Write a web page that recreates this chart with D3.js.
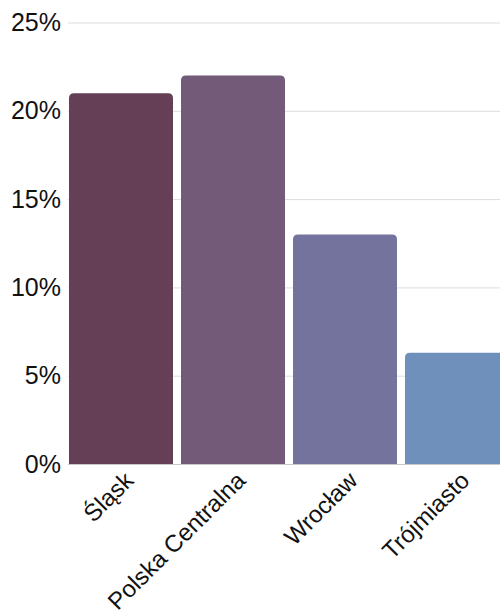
<!DOCTYPE html>
<meta charset="utf-8">
<style>
  body { margin: 0; overflow: hidden; background: #fff; }
  svg { display: block; }
  text { font-family: "Liberation Sans", Arial, sans-serif; fill: #111; }
</style>
<body>
<script src="https://cdn.jsdelivr.net/npm/d3@7"></script>
<script>
// data
var regions = ["Śląsk", "Polska Centralna", "Wrocław", "Trójmiasto"];
var shares  = [21.0, 22.0, 13.0, 6.3];
var colors  = ["#643f56", "#735a78", "#74739d", "#6e90bb"];
var yTicks  = [0, 5, 10, 15, 20, 25];

var W = 520, H = 614;

var svg = d3.select("body").append("svg")
  .attr("width", W)
  .attr("height", H);

var y = d3.scaleLinear().domain([0, 25]).range([464, 22.5]);

var x = d3.scaleBand()
  .domain(regions)
  .range([69, 509])
  .paddingInner(8 / 112)
  .paddingOuter(0);

// gridlines + y labels
var yAxis = d3.axisLeft(y)
  .tickValues(yTicks)
  .tickSize(-(W - 68))
  .tickPadding(7)
  .tickFormat(function(d){ return d + "%"; });

var gy = svg.append("g")
  .attr("transform", "translate(68,0)")
  .call(yAxis);
gy.select(".domain").remove();
gy.selectAll(".tick line")
  .attr("stroke", function(d){ return d === 0 ? "#c8c8c8" : "#dcdcdc"; })
  .attr("stroke-width", 1);
gy.selectAll(".tick text")
  .style("font-size", "25px")
  .attr("fill", "#111");

// bars, rounded on top only
var r = 5;
function barPath(d, i) {
  var x0 = x(regions[i]), w = x.bandwidth(), y0 = y(d), y1 = y(0);
  return "M" + x0 + "," + y1 +
    "V" + (y0 + r) +
    "Q" + x0 + "," + y0 + " " + (x0 + r) + "," + y0 +
    "H" + (x0 + w - r) +
    "Q" + (x0 + w) + "," + y0 + " " + (x0 + w) + "," + (y0 + r) +
    "V" + y1 + "Z";
}

svg.append("g").selectAll("path")
  .data(shares)
  .enter().append("path")
  .attr("d", barPath)
  .attr("fill", function(d, i){ return colors[i]; });

// rotated x labels
svg.append("g").selectAll("text")
  .data(regions)
  .enter().append("text")
  .attr("text-anchor", "end")
  .style("font-size", "24px")
  .attr("transform", function(d){
    return "translate(" + (x(d) + x.bandwidth() / 2 + 8) + ",476) rotate(-45)";
  })
  .attr("dy", "0.35em")
  .text(function(d){ return d; });
</script>
</body>
